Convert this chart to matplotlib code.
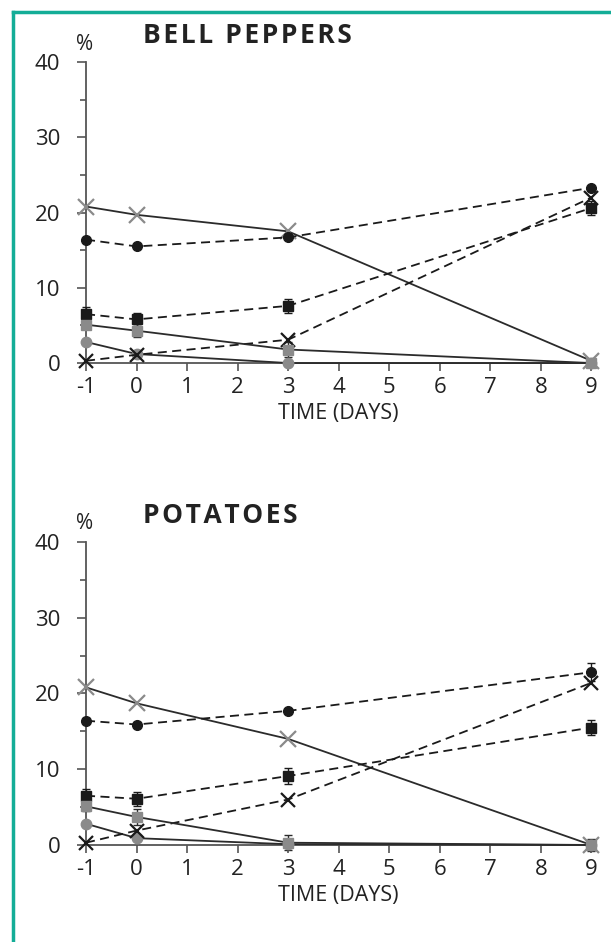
import matplotlib.pyplot as plt
from matplotlib.lines import Line2D
import numpy as np

plt.rcParams['font.family'] = ['Open Sans', 'DejaVu Sans']
plt.rcParams['axes.unicode_minus'] = False

days = [-1, 0, 3, 9]

# bell peppers
bp_gray_x = [20.8, 19.7, 17.5, 0.3]
bp_black_circle = [16.4, 15.5, 16.7, 23.3]
bp_black_square = [6.5, 5.8, 7.6, 20.6]
bp_black_square_err = [0.9, 0.9, 0.9, 0.9]
bp_gray_square = [5.1, 4.3, 1.8, 0.0]
bp_gray_square_err = [0.6, 0.9, 1.0, 0.5]
bp_gray_circle = [2.8, 1.2, 0.0, 0.0]
bp_black_x = [0.3, 1.1, 3.1, 22.0]

# potatoes
po_gray_x = [20.8, 18.7, 14.0, 0.0]
po_black_circle = [16.4, 15.9, 17.7, 22.8]
po_black_circle_err = [0.3, 0.3, 0.3, 1.2]
po_black_square = [6.5, 6.1, 9.1, 15.5]
po_black_square_err = [0.9, 0.9, 1.0, 1.0]
po_gray_square = [5.1, 3.7, 0.3, 0.0]
po_gray_square_err = [0.6, 1.0, 1.0, 0.8]
po_gray_circle = [2.8, 0.9, 0.1, 0.0]
po_black_x = [0.3, 1.9, 6.0, 21.4]

GRAY = '#8a8a8a'
BLACK = '#1a1a1a'
LINE = '#2b2b2b'


def spaced(s):
    # letter spaced title, hair space between letters
    return '\u200a'.join(s)


def draw_panel(ax, title, gx, bc, bc_err, bs, bs_err, gs, gs_err, gc, bx):
    ax.plot(days, gx, '-', color=LINE, lw=1.3, marker='x', ms=11, mew=1.6,
            mec=GRAY, clip_on=False, zorder=3)
    ax.errorbar(days, bc, yerr=bc_err, fmt='o', color=BLACK, ms=7,
                capsize=3, elinewidth=1, ls='--', lw=1.3, dashes=(5, 3),
                clip_on=False, zorder=4)
    ax.errorbar(days, bs, yerr=bs_err, fmt='s', color=BLACK, ms=6.5,
                capsize=3, elinewidth=1, ls='--', lw=1.3, dashes=(5, 3),
                clip_on=False, zorder=4)
    ax.errorbar(days, gs, yerr=gs_err, fmt='s', color=LINE, mfc=GRAY, mec=GRAY,
                ecolor=LINE, ms=7, capsize=3, elinewidth=1, ls='-', lw=1.3,
                clip_on=False, zorder=4)
    ax.plot(days, gc, '-', color=LINE, lw=1.3, marker='o', ms=7.5, mfc=GRAY,
            mec=GRAY, clip_on=False, zorder=4)
    ax.plot(days, bx, '--', color=BLACK, lw=1.3, dashes=(5, 3), marker='x',
            ms=10, mew=1.6, clip_on=False, zorder=4)

    ax.set_xlim(-1, 9)
    ax.set_ylim(0, 40)
    ax.set_xticks(range(-1, 10))
    ax.set_yticks([0, 10, 20, 30, 40])
    ax.set_yticks([5, 15, 25, 35], minor=True)
    for s in ['top', 'right']:
        ax.spines[s].set_visible(False)
    for s in ['left', 'bottom']:
        ax.spines[s].set_color('#555555')
        ax.spines[s].set_linewidth(1.3)
    ax.tick_params(axis='both', which='both', direction='out', color='#555555',
                   width=1.2, labelsize=16, labelcolor='#222222')
    ax.tick_params(axis='y', which='major', length=6.5, pad=12)
    ax.tick_params(axis='y', which='minor', length=4.3)
    ax.tick_params(axis='x', length=6, pad=4)
    ax.set_xlabel('TIME (DAYS)', fontsize=15.5, color='#222222', labelpad=4)
    ax.text(-1.03, 42.4, '%', fontsize=15, color='#222222', ha='center', va='center')
    ax.text(0.12, 42.5, spaced(title), fontsize=19, fontweight='bold',
            color='#222222', ha='left', va='baseline')


fig = plt.figure(figsize=(6.11, 9.42), dpi=100)
ax1 = fig.add_axes([0.1408, 0.6146, 0.827, 0.3195])
ax2 = fig.add_axes([0.1408, 0.1030, 0.827, 0.3217])

draw_panel(ax1, 'BELL PEPPERS', bp_gray_x, bp_black_circle, None,
           bp_black_square, bp_black_square_err, bp_gray_square,
           bp_gray_square_err, bp_gray_circle, bp_black_x)
draw_panel(ax2, 'POTATOES', po_gray_x, po_black_circle, po_black_circle_err,
           po_black_square, po_black_square_err, po_gray_square,
           po_gray_square_err, po_gray_circle, po_black_x)

# teal frame on top and left
teal = '#14ad97'
fig.add_artist(Line2D([13 / 611, 1.0], [1 - 12 / 942, 1 - 12 / 942],
                      color=teal, lw=2.5, transform=fig.transFigure))
fig.add_artist(Line2D([13 / 611, 13 / 611], [0.0, 1 - 12 / 942],
                      color=teal, lw=2.5, transform=fig.transFigure))

fig.savefig('out.png', dpi=100)
